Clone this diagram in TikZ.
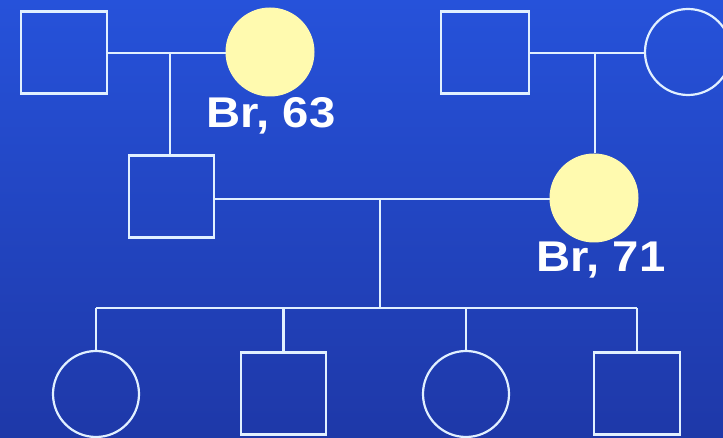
\documentclass[tikz,border=0pt]{standalone}
\usepackage{fontspec}
\setmainfont{Liberation Sans}
\definecolor{bgtop}{RGB}{38,82,218}
\definecolor{bgbot}{RGB}{30,56,168}
\definecolor{linec}{RGB}{225,240,255}
\definecolor{affc}{RGB}{255,250,175}
\tikzset{
  male/.style={draw=linec, line width=2.2pt, inner sep=0pt, minimum width=#1, minimum height=82pt},
  male/.default=86pt,
  female/.style={circle, draw=linec, line width=2.2pt, inner sep=0pt, minimum size=86pt},
  affected/.style={circle, fill=affc, draw=affc, line width=1pt, inner sep=0pt, minimum size=88pt},
  link/.style={draw=linec, line width=2.2pt},
  lbl/.style={text=white, font=\bfseries\fontsize{43}{43}\selectfont, inner sep=0pt, xscale=1.1}
}
\begin{document}
\begin{tikzpicture}[x=1pt,y=-1pt]
\useasboundingbox (0,0) rectangle (723,438);
\fill[top color=bgtop, bottom color=bgbot] (0,0) rectangle (723,438);
% generation I
\node[male] (gf1) at (64,52.5) {};
\node[affected] (gm1) at (270,52) {};
\node[male=88pt] (gf2) at (485,52.5) {};
\node[female] (gm2) at (688,52) {};
% generation II
\node[male=85pt] (fa) at (171.5,196.5) {};
\node[affected] (mo) at (594,198) {};
% generation III
\node[female] (c1) at (96,394) {};
\node[male=85pt] (c2) at (283.5,393.5) {};
\node[female] (c3) at (466,394) {};
\node[male] (c4) at (637,393.5) {};
% labels
\node[lbl] (l63) at (271,116) {Br, 63};
\node[lbl] (l71) at (601,260) {Br, 71};
% connectors
\coordinate (m1) at (170,53);
\coordinate (m2) at (595,53);
\coordinate (m3) at (380,199);
\coordinate (s3) at (380,308);
\draw[link] (gf1.east |- m1) -- (gm1.west |- m1);
\draw[link] (m1) -- (fa.north -| m1);
\draw[link] (gf2.east |- m2) -- (gm2.west |- m2);
\draw[link] (m2) -- (mo.north -| m2);
\draw[link] (fa.east |- m3) -- (mo.west |- m3);
\draw[link] (m3) -- (s3);
\draw[link] (c1.north |- s3) -- (c4.north |- s3);
\draw[link] (c1.north |- s3) -- (c1.north);
\draw[link] (c2.north |- s3) -- (c2.north);
\draw[link] (c3.north |- s3) -- (c3.north);
\draw[link] (c4.north |- s3) -- (c4.north);
\end{tikzpicture}
\end{document}
